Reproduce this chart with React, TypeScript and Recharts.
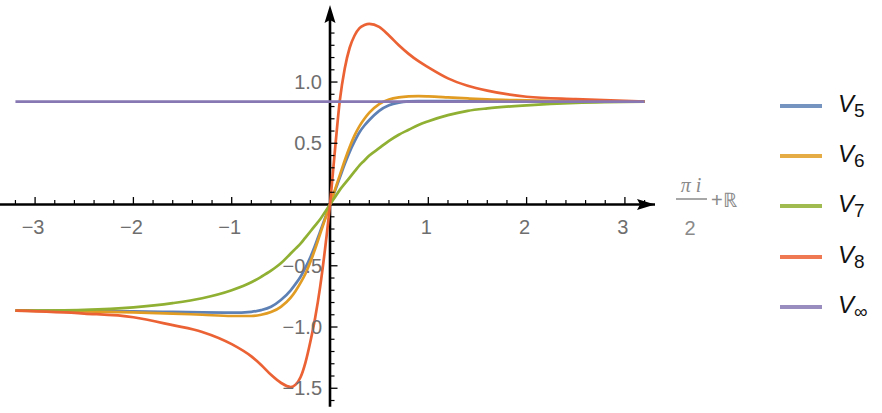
import React from 'react';
import { LineChart, Line, XAxis, YAxis, ReferenceLine, ReferenceDot } from 'recharts';

// sample positions along the real part
const xs = [
  -3.2, -2.5, -2.0, -1.6, -1.3, -1.0, -0.8, -0.7, -0.6, -0.5, -0.4, -0.35, -0.3, -0.25, -0.2, -0.15, -0.1, -0.05,
  0, 0.05, 0.1, 0.15, 0.2, 0.25, 0.3, 0.35, 0.4, 0.5, 0.6, 0.7, 0.8, 0.9, 1.0, 1.2, 1.4, 1.6, 2.0, 2.5, 3.2,
];

const v5 = [
  -0.867, -0.869, -0.872, -0.877, -0.881, -0.883, -0.876, -0.862, -0.835, -0.78, -0.7, -0.648, -0.59, -0.515, -0.43, -0.33, -0.22, -0.11,
  0, 0.11, 0.22, 0.33, 0.43, 0.515, 0.59, 0.645, 0.69, 0.765, 0.81, 0.832, 0.842, 0.845, 0.845, 0.844, 0.843, 0.842, 0.84, 0.84, 0.84,
];

const v6 = [
  -0.867, -0.872, -0.88, -0.89, -0.9, -0.91, -0.91, -0.9, -0.878, -0.835, -0.76, -0.705, -0.64, -0.565, -0.47, -0.36, -0.24, -0.12,
  0, 0.12, 0.24, 0.36, 0.47, 0.565, 0.64, 0.7, 0.75, 0.82, 0.857, 0.875, 0.883, 0.885, 0.883, 0.875, 0.866, 0.858, 0.85, 0.843, 0.84,
];

const v7 = [
  -0.867, -0.86, -0.84, -0.805, -0.765, -0.7, -0.635, -0.59, -0.54, -0.48, -0.4, -0.36, -0.32, -0.27, -0.22, -0.17, -0.12, -0.06,
  0, 0.06, 0.12, 0.17, 0.22, 0.27, 0.32, 0.36, 0.4, 0.46, 0.52, 0.57, 0.61, 0.65, 0.68, 0.73, 0.765, 0.785, 0.81, 0.83, 0.84,
];

const v8 = [
  -0.867, -0.89, -0.92, -0.985, -1.04, -1.14, -1.24, -1.31, -1.39, -1.455, -1.49, -1.47, -1.41, -1.29, -1.12, -0.92, -0.67, -0.36,
  0, 0.44, 0.85, 1.11, 1.28, 1.38, 1.44, 1.465, 1.475, 1.45, 1.38, 1.3, 1.23, 1.17, 1.12, 1.03, 0.97, 0.93, 0.88, 0.86, 0.84,
];

const vInf = [
  0.84, 0.84, 0.84, 0.84, 0.84, 0.84, 0.84, 0.84, 0.84, 0.84, 0.84, 0.84, 0.84, 0.84, 0.84, 0.84, 0.84, 0.84,
  0.84, 0.84, 0.84, 0.84, 0.84, 0.84, 0.84, 0.84, 0.84, 0.84, 0.84, 0.84, 0.84, 0.84, 0.84, 0.84, 0.84, 0.84, 0.84, 0.84, 0.84,
];

const xTicks = [-3, -2, -1, 1, 2, 3];
const xTickLabels = ['−3', '−2', '−1', '1', '2', '3'];
const yTicks = [-1.5, -1, -0.5, 0.5, 1];
const yTickLabels = ['−1.5', '−1.0', '−0.5', '0.5', '1.0'];

const series = [
  { key: 'v5', sub: '5', color: '#5e81b5' },
  { key: 'v6', sub: '6', color: '#e19c24' },
  { key: 'v7', sub: '7', color: '#8fb032' },
  { key: 'v8', sub: '8', color: '#eb6235' },
  { key: 'vInf', sub: '∞', color: '#8778b3' },
];

const data = xs.map((x, i) => ({ x, v5: v5[i], v6: v6[i], v7: v7[i], v8: v8[i], vInf: vInf[i] }));

// minor ticks every 0.2 on x, every 0.1 on y
const xMinor: number[] = [];
for (let k = -16; k <= 16; k++) if (k % 5 !== 0) xMinor.push(k / 5);
const yMinor: number[] = [];
for (let k = -16; k <= 14; k++) if (k % 5 !== 0) yMinor.push(k / 10);

const labelFont = '"Liberation Sans", Arial, sans-serif';
const grey = '#6e6e6e';
const axisLabelGrey = '#8a8a8a';

export default function App() {
  return (
    <div style={{ position: 'absolute', left: 0, top: 0, width: 882, height: 413, background: '#fff' }}>
      <LineChart width={882} height={413} data={data} margin={{ top: 5, right: 227, bottom: 0, left: 0 }}>
        <XAxis type="number" dataKey="x" domain={[-3.357, 3.306]} hide allowDataOverflow />
        <YAxis type="number" domain={[-1.702, 1.629]} hide allowDataOverflow />

        <ReferenceLine y={0} stroke="#000" strokeWidth={2.6} />
        <ReferenceLine segment={[{ x: 0, y: -1.65 }, { x: 0, y: 1.55 }]} stroke="#000" strokeWidth={2.6} />

        {xMinor.map((t) => (
          <ReferenceDot key={'xm' + t} x={t} y={0} shape={(p: any) => (
            <line x1={p.cx} y1={p.cy} x2={p.cx} y2={p.cy - 4.5} stroke="#000" strokeWidth={1.2} />
          )} />
        ))}
        {yMinor.map((t) => (
          <ReferenceDot key={'ym' + t} x={0} y={t} shape={(p: any) => (
            <line x1={p.cx} y1={p.cy} x2={p.cx + 4.5} y2={p.cy} stroke="#000" strokeWidth={1.2} />
          )} />
        ))}
        {xTicks.map((t, i) => (
          <ReferenceDot key={'xt' + t} x={t} y={0} shape={(p: any) => (
            <g>
              <line x1={p.cx} y1={p.cy} x2={p.cx} y2={p.cy - 7.5} stroke="#000" strokeWidth={1.3} />
              <text x={p.cx - 2} y={p.cy + 29.5} textAnchor="middle" fontFamily={labelFont} fontSize={20} fill={grey}>
                {xTickLabels[i]}
              </text>
            </g>
          )} />
        ))}
        {yTicks.map((t, i) => (
          <ReferenceDot key={'yt' + t} x={0} y={t} shape={(p: any) => (
            <g>
              <line x1={p.cx} y1={p.cy} x2={p.cx + 7.5} y2={p.cy} stroke="#000" strokeWidth={1.3} />
              <text x={p.cx - 8} y={p.cy + 7.2} textAnchor="end" fontFamily={labelFont} fontSize={20} fill={grey}>
                {yTickLabels[i]}
              </text>
            </g>
          )} />
        ))}

        {series.map((s) => (
          <Line
            key={s.key}
            type="monotone"
            dataKey={s.key}
            stroke={s.color}
            strokeWidth={2.7}
            dot={false}
            activeDot={false}
            isAnimationActive={false}
          />
        ))}

        {/* arrow heads */}
        <ReferenceDot x={3.306} y={0} shape={(p: any) => (
          <path d={`M${p.cx},${p.cy} L${p.cx - 18},${p.cy - 5.5} L${p.cx - 15},${p.cy} L${p.cx - 18},${p.cy + 5.5} Z`} fill="#000" />
        )} />
        <ReferenceDot x={0} y={1.629} shape={(p: any) => (
          <path d={`M${p.cx},${p.cy} L${p.cx - 5.5},${p.cy + 18} L${p.cx},${p.cy + 15} L${p.cx + 5.5},${p.cy + 18} Z`} fill="#000" />
        )} />
      </LineChart>

      {/* axis label: (pi i)/2 + R */}
      <svg width={100} height={70} style={{ position: 'absolute', left: 660, top: 170 }}>
        <text x={31} y={22} textAnchor="middle" fontFamily='"Liberation Serif", serif' fontStyle="italic" fontSize={20} fill={axisLabelGrey}>
          π i
        </text>
        <line x1={16} y1={29} x2={47} y2={29} stroke={axisLabelGrey} strokeWidth={1.5} />
        <text x={30} y={65} textAnchor="middle" fontFamily={labelFont} fontSize={20} fill={axisLabelGrey}>2</text>
        <text x={51} y={37} fontFamily={labelFont} fontSize={20} fill={axisLabelGrey}>+ℝ</text>
      </svg>

      {/* legend */}
      {series.map((s, i) => (
        <div key={s.key} style={{ position: 'absolute', left: 780, top: 106 + i * 50.2 - 12, height: 24, display: 'flex', alignItems: 'center' }}>
          <div style={{ width: 42, height: 4, background: s.color, opacity: 0.85 }} />
          <div style={{ marginLeft: 16, fontFamily: labelFont, color: '#111', whiteSpace: 'nowrap' }}>
            <span style={{ fontStyle: 'italic', fontSize: 24 }}>V</span>
            <sub style={{ fontSize: 19, verticalAlign: -5 }}>{s.sub}</sub>
          </div>
        </div>
      ))}
    </div>
  );
}
